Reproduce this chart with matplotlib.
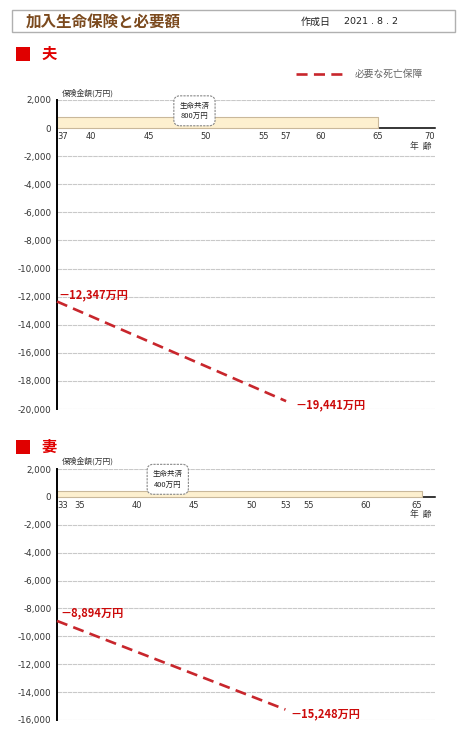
import matplotlib
matplotlib.use("Agg")
import matplotlib.pyplot as plt
from matplotlib.patches import Rectangle
import matplotlib.transforms as mtransforms

plt.rcParams['font.family'] = ['Noto Sans CJK JP', 'DejaVu Sans']

W, H = 467, 733
DPI = 100

# ---- data ----
title = "加入生命保険と必要額"
created_label = "作成日"
created_date = "2021 . 8 . 2"
legend_label = "必要な死亡保障"
y_axis_label = "保険金額(万円)"
x_axis_label = "年  齢"

husband_name = "夫"
husband_ages = [37, 70]
husband_ticks = [37, 40, 45, 50, 55, 57, 60, 65, 70]
husband_need_ages = [37, 57]
husband_need_values = [-12347, -19441]
husband_cover_ages = [37, 65]
husband_cover_amount = 800
husband_cover_name = "生命共済"
husband_ylim = [-20000, 2000]

wife_name = "妻"
wife_ages = [33, 66.1]
wife_ticks = [33, 35, 40, 45, 50, 53, 55, 60, 65]
wife_need_ages = [33, 53]
wife_need_values = [-8894, -15248]
wife_cover_ages = [33, 65]
wife_cover_amount = 400
wife_cover_name = "生命共済"
wife_ylim = [-16000, 2000]

LINE_RED = "#c8262c"
LABEL_RED = "#cc0a0a"
TEXT_GRAY = "#333333"

fig = plt.figure(figsize=(W / DPI, H / DPI), dpi=DPI)


def px_box(x0, y0, x1, y1):
    """Convert a pixel box (top-left origin) into figure fractions."""
    return [x0 / W, 1 - y1 / H, (x1 - x0) / W, (y1 - y0) / H]


def fx(x):
    return x / W


def fy(y):
    return 1 - y / H


# ---- header ----
fig.patches.append(Rectangle((fx(12), fy(32)), (455 - 12) / W, 22 / H,
                             transform=fig.transFigure, facecolor="white",
                             edgecolor="#b0b0b0", linewidth=1.0))
fig.text(fx(26), fy(21.5), title, fontsize=11.2, fontweight="bold",
         color="#7b4a1e", va="center", ha="left")
fig.text(fx(301), fy(21.5), created_label, fontsize=7.2, color="#222222",
         va="center", ha="left")
fig.text(fx(344), fy(21.5), created_date, fontsize=6.8, color="#222222",
         va="center", ha="left", family="DejaVu Sans")

# ---- legend ----
fig.add_artist(plt.Line2D([fx(296), fx(345)], [fy(74), fy(74)],
                          transform=fig.transFigure, color=LINE_RED,
                          linewidth=1.9, dashes=(4.2, 2.4)))
fig.text(fx(355), fy(74), legend_label, fontsize=7.0, color="#666666",
         va="center", ha="left")


def section_title(name, y):
    fig.patches.append(Rectangle((fx(16), fy(y + 7)), 14 / W, 14 / H,
                                 transform=fig.transFigure,
                                 facecolor="#e00000", edgecolor="none"))
    fig.text(fx(41), fy(y), name, fontsize=11, fontweight="bold",
             color="#e00000", va="center", ha="left")


def draw_panel(box, ages, ticks, ylim, need_ages, need_values,
               cover_ages, cover_amount, cover_name, cover_pos,
               label_offsets):
    ax = fig.add_axes(px_box(*box))
    ax.set_xlim(*ages)
    ax.set_ylim(*ylim)
    for s in ("top", "right"):
        ax.spines[s].set_visible(False)
    ax.spines["left"].set_color("black")
    ax.spines["left"].set_linewidth(1.4)
    ax.spines["bottom"].set_position(("data", 0))
    ax.spines["bottom"].set_color("black")
    ax.spines["bottom"].set_linewidth(1.1)
    ax.spines["bottom"].set_zorder(1)

    yt = list(range(ylim[0], ylim[1] + 1, 2000))
    ax.set_yticks(yt)
    ax.set_yticklabels([f"{v:,}" for v in yt], family="DejaVu Sans")
    ax.tick_params(axis="y", length=0, pad=4, labelsize=6.3,
                   labelcolor=TEXT_GRAY)
    ax.set_xticks(ticks)
    labels = ax.set_xticklabels([str(t) for t in ticks], family="DejaVu Sans")
    labels[0].set_horizontalalignment("left")
    labels[-1].set_horizontalalignment("right")
    ax.tick_params(axis="x", length=0, pad=3, labelsize=6.0,
                   labelcolor=TEXT_GRAY)

    for v in yt:
        if v != 0:
            ax.axhline(v, color="#c9c9c9", linewidth=0.8,
                       dashes=(4, 0.6), zorder=0)

    # insurance coverage bar
    ax.fill_between(cover_ages, 0, cover_amount, color="#fdf0cf",
                    edgecolor="#c9b89a", linewidth=0.8, zorder=2)
    ax.text(*cover_pos, f"{cover_name}\n{cover_amount}万円", fontsize=5.4,
            ha="center", va="center", color="#222222", linespacing=1.45,
            zorder=4,
            bbox=dict(boxstyle="round,pad=0.75,rounding_size=0.8",
                      facecolor="white", edgecolor="#888888",
                      linestyle=(0, (2, 1)), linewidth=0.8))

    # required death benefit
    ax.plot(need_ages, need_values, color=LINE_RED, linewidth=1.9,
            dashes=(4.2, 2.4), zorder=3, clip_on=False)
    for a, v, (dx, dy) in zip(need_ages, need_values, label_offsets):
        tr = ax.transData + mtransforms.ScaledTranslation(
            dx / DPI, dy / DPI, fig.dpi_scale_trans)
        ax.text(a, v, f"－{-v:,}万円", transform=tr, fontsize=8.0,
                fontweight="bold", color=LABEL_RED, ha="left",
                va="center", zorder=5)

    tr = ax.get_yaxis_transform() + mtransforms.ScaledTranslation(
        -3 / DPI, -18 / DPI, fig.dpi_scale_trans)
    ax.text(1.0, 0, x_axis_label, transform=tr,
            fontsize=6.3, color=TEXT_GRAY, ha="right", va="center")
    return ax


# ---- husband ----
section_title(husband_name, 54)
fig.text(fx(62), fy(93), y_axis_label, fontsize=5.6, color=TEXT_GRAY,
         va="center", ha="left")
draw_panel((57, 100, 435, 409), husband_ages, husband_ticks,
           husband_ylim, husband_need_ages, husband_need_values,
           husband_cover_ages, husband_cover_amount, husband_cover_name,
           (49.0, 1230), [(1, 7), (9, -4)])

# ---- wife ----
section_title(wife_name, 447)
fig.text(fx(62), fy(461), y_axis_label, fontsize=5.6, color=TEXT_GRAY,
         va="center", ha="left")
draw_panel((57, 469, 435, 720), wife_ages, wife_ticks,
           wife_ylim, wife_need_ages, wife_need_values,
           wife_cover_ages, wife_cover_amount, wife_cover_name,
           (42.7, 1260), [(3, 8), (5, -4)])

fig.savefig("out.png", dpi=DPI, facecolor="white")
